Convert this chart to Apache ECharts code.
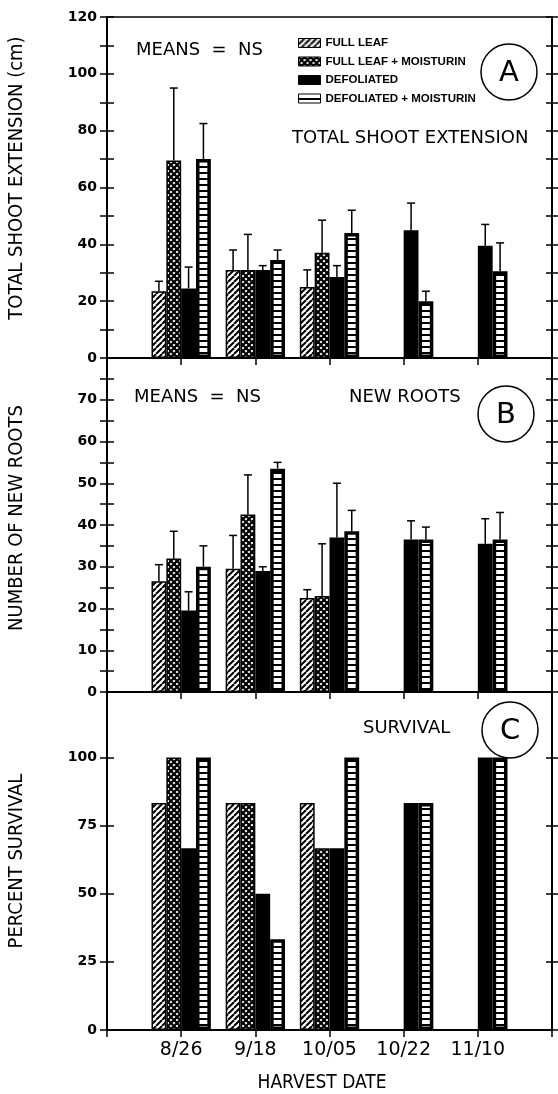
<!DOCTYPE html>
<html><head><meta charset="utf-8">
<script src="https://cdn.jsdelivr.net/npm/echarts@6/dist/echarts.min.js"></script>
<style>html,body{margin:0;padding:0;background:#fff}#c{width:558px;height:1094px}</style>
</head><body><div id="c"></div><script>
// ---------- data ----------
const dates = ['8/26', '9/18', '10/05', '10/22', '11/10'];
const treatments = ['FULL LEAF', 'FULL LEAF + MOISTURIN', 'DEFOLIATED', 'DEFOLIATED + MOISTURIN'];

// Panel A: total shoot extension (cm), mean and top of error bar
const shootFL    = [23.5, 31, 25, null, null];
const shootFLM   = [69.5, 31, 37, null, null];
const shootD     = [24.5, 31, 28.5, 45, 39.5];
const shootDM    = [70, 34.5, 44, 20, 30.5];
const shootFLErr  = [27, 38, 31, null, null];
const shootFLMErr = [95, 43.5, 48.5, null, null];
const shootDErr   = [32, 32.5, 32.5, 54.5, 47];
const shootDMErr  = [82.5, 38, 52, 23.5, 40.5];

// Panel B: number of new roots
const rootsFL    = [26.5, 29.5, 22.5, null, null];
const rootsFLM   = [32, 42.5, 23, null, null];
const rootsD     = [19.5, 29, 37, 36.5, 35.5];
const rootsDM    = [30, 53.5, 38.5, 36.5, 36.5];
const rootsFLErr  = [30.5, 37.5, 24.5, null, null];
const rootsFLMErr = [38.5, 52, 35.5, null, null];
const rootsDErr   = [24, 30, 50, 41, 41.5];
const rootsDMErr  = [35, 55, 43.5, 39.5, 43];

// Panel C: percent survival
const survFL  = [83.3, 83.3, 83.3, null, null];
const survFLM = [100, 83.3, 66.7, null, null];
const survD   = [66.7, 50, 66.7, 83.3, 100];
const survDM  = [100, 33.3, 100, 83.3, 100];

// y tick labels
const ticksA = [0, 20, 40, 60, 80, 100, 120];
const ticksB = [0, 10, 20, 30, 40, 50, 60, 70];
const ticksC = [0, 25, 50, 75, 100];

// ---------- patterns ----------
function makeCanvas(w, h, draw) {
  const c = document.createElement('canvas'); c.width = w; c.height = h;
  const g = c.getContext('2d'); draw(g); return c;
}
const hatch = makeCanvas(6, 6, g => {
  g.fillStyle = '#fff'; g.fillRect(0, 0, 6, 6);
  g.strokeStyle = '#000'; g.lineWidth = 2;
  for (const o of [-6, 0, 6]) { g.beginPath(); g.moveTo(o, 6); g.lineTo(o + 6, 0); g.stroke(); }
});
const cross = makeCanvas(6, 6, g => {
  g.fillStyle = '#fff'; g.fillRect(0, 0, 6, 6);
  g.strokeStyle = '#000'; g.lineWidth = 2.2;
  for (const o of [-6, 0, 6]) {
    g.beginPath(); g.moveTo(o, 6); g.lineTo(o + 6, 0); g.stroke();
    g.beginPath(); g.moveTo(o, 0); g.lineTo(o + 6, 6); g.stroke();
  }
});
const stripes = makeCanvas(8, 6, g => {
  g.fillStyle = '#fff'; g.fillRect(0, 0, 8, 6);
  g.fillStyle = '#000'; g.fillRect(0, 4, 8, 2);
});
const fills = [
  { image: hatch, repeat: 'repeat' },
  { image: cross, repeat: 'repeat' },
  '#000',
  { image: stripes, repeat: 'repeat' }
];
const borderW = [1.5, 1.5, 1.5, 3.5];

// ---------- layout ----------
const panels = [
  { top: 17, height: 341, max: 120, interval: 10, labels: ticksA },
  { top: 358, height: 334, max: 80, interval: 5, labels: ticksB },
  { top: 692, height: 338, max: 124, interval: 25, labels: ticksC }
];
const pad = a => [null, ...a, null];
const black = '#000';

const grid = panels.map(p => ({ left: 107, right: 6, top: p.top, height: p.height, show: true,
  borderColor: black, borderWidth: 1.5, backgroundColor: 'transparent' }));

const xAxis = panels.map((p, i) => ({
  gridIndex: i, type: 'category', data: ['', ...dates, ''], boundaryGap: false,
  axisLine: { show: true, lineStyle: { color: black, width: 2 } },
  axisTick: { show: true, length: 7, interval: 0, lineStyle: { color: black, width: 1.5 } },
  axisLabel: { show: i === 2, interval: 0, color: black, fontSize: 19, fontFamily: 'DejaVu Sans', margin: 11 },
  splitLine: { show: false }
}));

const yAxis = [];
panels.forEach((p, i) => {
  const base = { gridIndex: i, type: 'value', min: 0, max: p.max, interval: p.interval, splitLine: { show: false } };
  yAxis.push(Object.assign({}, base, {
    position: 'left',
    axisLine: { show: true, lineStyle: { color: black, width: 2 } },
    axisTick: { show: true, inside: false, length: 7, lineStyle: { color: black, width: 1.5 } },
    axisLabel: { show: true, color: black, fontFamily: 'DejaVu Sans', fontWeight: 'bold', fontSize: 14, margin: 10,
      formatter: v => (p.labels.indexOf(v) >= 0 ? String(v) : '') }
  }));
  yAxis.push(Object.assign({}, base, {
    position: 'left', axisLine: { show: false },
    axisTick: { show: true, inside: true, length: 7, lineStyle: { color: black, width: 1.5 } },
    axisLabel: { show: false }
  }));
  yAxis.push(Object.assign({}, base, {
    position: 'right',
    axisLine: { show: true, lineStyle: { color: black, width: 2 } },
    axisTick: { show: true, inside: false, length: 6, lineStyle: { color: black, width: 1.5 } },
    axisLabel: { show: false }
  }));
  yAxis.push(Object.assign({}, base, {
    position: 'right', axisLine: { show: false },
    axisTick: { show: true, inside: true, length: 6, lineStyle: { color: black, width: 1.5 } },
    axisLabel: { show: false }
  }));
});

function barSeries(panel, vals, k) {
  return { type: 'bar', name: treatments[k], xAxisIndex: panel, yAxisIndex: panel * 4, data: pad(vals),
    barGap: '0%', barCategoryGap: '20%', silent: true,
    itemStyle: { color: fills[k], borderColor: black, borderWidth: borderW[k] } };
}
function errSeries(panel, valsList, errList) {
  const data = [];
  valsList.forEach((vals, k) => vals.forEach((v, i) => {
    if (v != null && errList[k][i] != null) data.push([i + 1, v, errList[k][i], k]);
  }));
  return { type: 'custom', xAxisIndex: panel, yAxisIndex: panel * 4, data, silent: true, z: 3,
    renderItem(params, api) {
      const ci = api.value(0), v = api.value(1), e = api.value(2), k = api.value(3);
      const band = api.size([1, 0])[0];
      const bw = band * 0.2;
      const p1 = api.coord([ci, v]), p2 = api.coord([ci, e]);
      const x = p1[0] + (k - 1.5) * bw;
      return { type: 'group', children: [
        { type: 'line', shape: { x1: x, y1: p1[1], x2: x, y2: p2[1] }, style: { stroke: black, lineWidth: 1.5 } },
        { type: 'line', shape: { x1: x - 4, y1: p2[1], x2: x + 4, y2: p2[1] }, style: { stroke: black, lineWidth: 1.5 } }
      ] };
    } };
}

const series = [
  barSeries(0, shootFL, 0), barSeries(0, shootFLM, 1), barSeries(0, shootD, 2), barSeries(0, shootDM, 3),
  errSeries(0, [shootFL, shootFLM, shootD, shootDM], [shootFLErr, shootFLMErr, shootDErr, shootDMErr]),
  barSeries(1, rootsFL, 0), barSeries(1, rootsFLM, 1), barSeries(1, rootsD, 2), barSeries(1, rootsDM, 3),
  errSeries(1, [rootsFL, rootsFLM, rootsD, rootsDM], [rootsFLErr, rootsFLMErr, rootsDErr, rootsDMErr]),
  barSeries(2, survFL, 0), barSeries(2, survFLM, 1), barSeries(2, survD, 2), barSeries(2, survDM, 3)
];

const txtFont = '18px "DejaVu Sans"';
const titleFont = '20px "DejaVu Sans Condensed", "Liberation Sans Narrow", "DejaVu Sans"';
function label(text, x, y, font, align) {
  return { type: 'text', x, y, silent: true,
    style: { text, font, fill: black, textAlign: align || 'left', textVerticalAlign: 'middle' } };
}
function circleLetter(letter, cx, cy) {
  return [
    { type: 'circle', shape: { cx, cy, r: 28 }, silent: true, style: { fill: 'none', stroke: black, lineWidth: 1.5 } },
    label(letter, cx, cy + 1, '29px "DejaVu Sans"', 'center')
  ];
}
function vTitle(text, x, y) {
  return { type: 'text', x, y, rotation: Math.PI / 2, silent: true,
    style: { text, font: titleFont, fill: black, textAlign: 'center', textVerticalAlign: 'middle' } };
}

const graphic = [
  vTitle('TOTAL SHOOT EXTENSION (cm)', 17, 178),
  vTitle('NUMBER OF NEW ROOTS', 17, 518),
  vTitle('PERCENT SURVIVAL', 17, 861),
  label('MEANS  =  NS', 136, 50, txtFont),
  label('TOTAL SHOOT EXTENSION', 292, 138, txtFont),
  label('MEANS  =  NS', 134, 397, txtFont),
  label('NEW ROOTS', 349, 397, txtFont),
  label('SURVIVAL', 363, 728, txtFont),
  ...circleLetter('A', 509, 72),
  ...circleLetter('B', 506, 414),
  ...circleLetter('C', 510, 730),
  label('HARVEST DATE', 322, 1083, '19px "DejaVu Sans Condensed", "DejaVu Sans"', 'center')
];

const chart = echarts.init(document.getElementById('c'), null, { renderer: 'canvas' });
chart.setOption({
  animation: false,
  backgroundColor: '#fff',
  grid, xAxis, yAxis, series, graphic,
  legend: {
    orient: 'vertical', left: 298, top: 37, padding: 0, itemWidth: 22, itemHeight: 9, itemGap: 6.5, icon: 'rect',
    selectedMode: false,
    textStyle: { fontFamily: 'Liberation Sans', fontWeight: 'bold', fontSize: 11.5, color: black },
    data: treatments.map((n, k) => ({ name: n, itemStyle: { color: fills[k], borderColor: black, borderWidth: 1 } }))
  }
});
</script></body></html>
